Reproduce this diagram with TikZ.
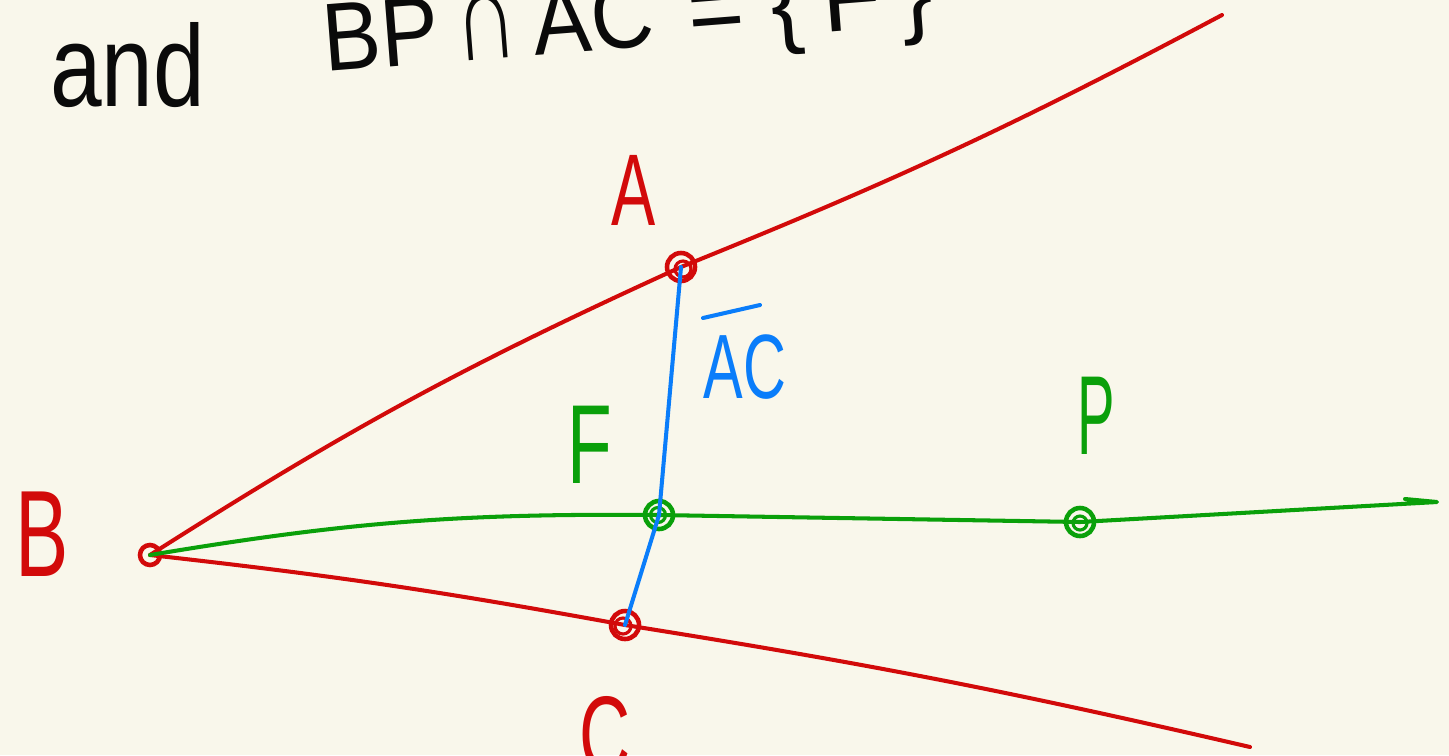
\documentclass[tikz,border=0pt]{standalone}
\usepackage{fontspec}
\setmainfont{Liberation Sans}
\definecolor{bg}{RGB}{249,247,235}
\definecolor{hred}{RGB}{210,10,10}
\definecolor{hgreen}{RGB}{10,160,10}
\definecolor{hblue}{RGB}{10,125,250}
\definecolor{hink}{RGB}{10,10,10}
\newcommand{\hw}[2][0.65]{\scalebox{#1}[1]{#2}}
\begin{document}
\begin{tikzpicture}[x=0.02cm,y=-0.02cm,
  stroke/.style={line width=2.3pt, line cap=round, line join=round},
  pt/.style={circle, draw, line width=2.6pt, inner sep=0pt},
  scrib/.style={line width=1.8pt},
  lab/.style={inner sep=0pt, font=\fontsize{#1}{#1}\selectfont}]
\fill[bg] (0,0) rectangle (1449,755);
\useasboundingbox (0,0) rectangle (1449,755);
\clip (0,0) rectangle (1449,755);

% points
\node[pt, hred, minimum size=0.56cm] (A) at (681,267) {};
\node[pt, hred, minimum size=0.40cm] (B) at (150,555) {};
\node[pt, hred, minimum size=0.56cm] (C) at (625,625) {};
\node[pt, hgreen, minimum size=0.56cm] (F) at (659,515) {};
\node[pt, hgreen, minimum size=0.56cm] (P) at (1080,522) {};
\draw[scrib, hred] ([shift={(2,2)}]A.center) circle (0.16cm);
\draw[scrib, hred] ([shift={(-2,1)}]C.center) circle (0.16cm);
\draw[scrib, hgreen] ([shift={(-1,0)}]F.center) circle (0.15cm);
\draw[scrib, hgreen] ([shift={(0,1)}]P.center) circle (0.14cm);
\coordinate (Uend) at (1222,15);
\coordinate (Lend) at (1250,747);
\coordinate (Gend) at (1437,502);
\coordinate (Ghook) at (1405,499);

% rays
\draw[stroke,hred] (B.center) to[bend left=4] (A.center) to[bend right=3] (Uend);
\draw[stroke,hred] (B.center) to[bend left=2] (C.center) to[bend left=2] (Lend);
\draw[stroke,hgreen] (B.center) to[bend left=5] (F.center) -- (P.center) -- (Gend) -- (Ghook);
\draw[stroke,hblue] (A.center) -- (F.center) -- (C.center);

% labels
\node[lab=58, hred] (lA) at (634,190) {\hw{A}};
\node[lab=70, hred] (lB) at (42,534) {\hw{B}};
\node[lab=62, hred] (lC) at (605,735) {\hw{C}};
\node[lab=64, hgreen] (lF) at (590,445) {\hw{F}};
\node[lab=64, hgreen] (lP) at (1096,416) {\hw[0.5]{P}};
\node[lab=52, hblue] (lAC) at (745,367) {\hw{AC}};
\draw[stroke,hblue] (703,318) -- (760,305);

% heading
\node[lab=66, hink, anchor=base west] (and) at (50,106) {\hw[0.8]{and}};
\node[lab=55, hink, anchor=base west, rotate=4.5] (eq) at (325,72)
  {\hw[0.9]{BP}\,\scalebox{0.9}[1.35]{∩}\,\hw[0.9]{AC}\hspace{20pt}=\hspace{15pt}\{\hspace{11pt}F\hspace{11pt}\}};
\end{tikzpicture}
\end{document}
